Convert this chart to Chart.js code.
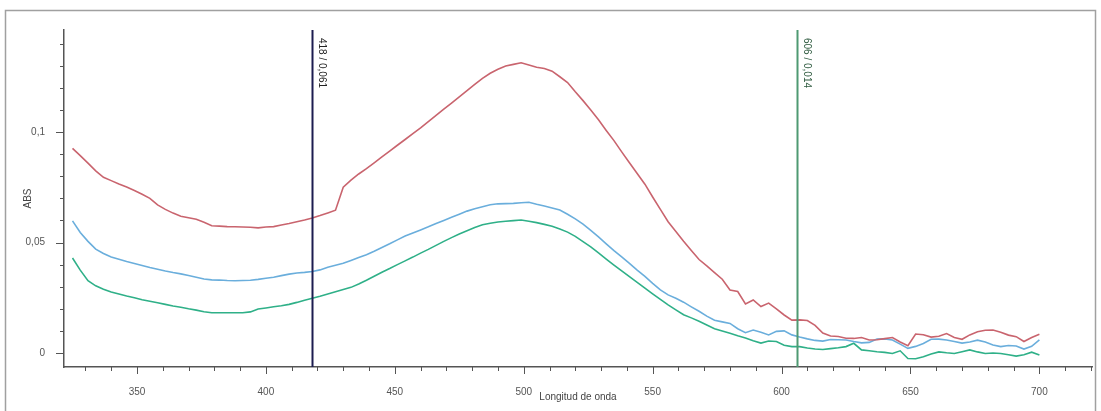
<!DOCTYPE html>
<html>
<head>
<meta charset="utf-8">
<script src="https://cdn.jsdelivr.net/npm/chart.js@4"></script>
<style>
html,body{margin:0;padding:0;background:#fff;}
#wrap{width:1101px;height:411px;position:relative;}
</style>
</head>
<body>
<div id="wrap"><canvas id="c" width="1101" height="411"></canvas></div>
<script>
const wavelengths = [
325,328,331,334,337,340,343,346,349,352,
355,358,361,364,367,370,373,376,379,382,
385,388,391,394,397,400,403,406,409,412,
415,418,421,424,427,430,433,436,439,442,
445,448,451,454,457,460,463,466,469,472,
475,478,481,484,487,490,493,496,499,502,
505,508,511,514,517,520,523,526,529,532,
535,538,541,544,547,550,553,556,559,562,
565,568,571,574,577,580,583,586,589,592,
595,598,601,604,607,610,613,616,619,622,
625,628,631,634,637,640,643,646,649,652,
655,658,661,664,667,670,673,676,679,682,
685,688,691,694,697,700];

const absRed = [
0.0926,0.0893,0.0859,0.0824,0.0795,0.0780,0.0765,0.0751,0.0735,0.0718,
0.0700,0.0670,0.0650,0.0633,0.0619,0.0612,0.0605,0.0592,0.0576,0.0574,
0.0572,0.0571,0.0570,0.0569,0.0566,0.0570,0.0572,0.0579,0.0586,0.0594,
0.0602,0.0611,0.0622,0.0634,0.0646,0.0750,0.0782,0.0810,0.0834,0.0860,
0.0887,0.0913,0.0940,0.0966,0.0993,0.1019,0.1047,0.1075,0.1103,0.1131,
0.1159,0.1187,0.1215,0.1243,0.1266,0.1284,0.1299,0.1306,0.1313,0.1303,
0.1293,0.1287,0.1275,0.1250,0.1224,0.1182,0.1142,0.1100,0.1055,0.1007,
0.0961,0.0910,0.0861,0.0812,0.0764,0.0706,0.0650,0.0594,0.0550,0.0506,
0.0464,0.0423,0.0394,0.0364,0.0334,0.0285,0.0278,0.0222,0.0240,0.0210,
0.0226,0.0200,0.0172,0.0149,0.0150,0.0147,0.0125,0.0090,0.0077,0.0075,
0.0067,0.0066,0.0070,0.0059,0.0060,0.0065,0.0070,0.0050,0.0033,0.0086,
0.0083,0.0072,0.0076,0.0088,0.0070,0.0062,0.0082,0.0096,0.0103,0.0104,
0.0094,0.0081,0.0074,0.0052,0.0070,0.0085];

const absBlue = [
0.0598,0.0545,0.0505,0.0470,0.0450,0.0434,0.0424,0.0414,0.0405,0.0396,
0.0387,0.0379,0.0371,0.0364,0.0358,0.0351,0.0343,0.0335,0.0331,0.0330,
0.0328,0.0327,0.0328,0.0329,0.0333,0.0338,0.0343,0.0350,0.0357,0.0362,
0.0365,0.0369,0.0376,0.0388,0.0397,0.0406,0.0419,0.0432,0.0445,0.0460,
0.0477,0.0494,0.0512,0.0529,0.0543,0.0557,0.0571,0.0586,0.0600,0.0614,
0.0628,0.0642,0.0653,0.0662,0.0671,0.0675,0.0676,0.0677,0.0680,0.0682,
0.0673,0.0665,0.0656,0.0647,0.0628,0.0607,0.0583,0.0555,0.0525,0.0494,
0.0463,0.0435,0.0406,0.0375,0.0347,0.0315,0.0286,0.0263,0.0248,0.0230,
0.0209,0.0189,0.0167,0.0148,0.0141,0.0134,0.0110,0.0092,0.0104,0.0094,
0.0082,0.0098,0.0100,0.0082,0.0072,0.0064,0.0057,0.0054,0.0061,0.0060,
0.0059,0.0052,0.0046,0.0048,0.0063,0.0064,0.0059,0.0040,0.0021,0.0030,
0.0043,0.0062,0.0063,0.0059,0.0052,0.0045,0.0050,0.0058,0.0050,0.0036,
0.0029,0.0034,0.0032,0.0018,0.0030,0.0059];

const absGreen = [
0.0430,0.0375,0.0327,0.0304,0.0289,0.0276,0.0267,0.0258,0.0250,0.0241,
0.0234,0.0227,0.0220,0.0213,0.0207,0.0200,0.0194,0.0187,0.0182,0.0182,
0.0182,0.0182,0.0182,0.0186,0.0199,0.0204,0.0209,0.0214,0.0220,0.0229,
0.0239,0.0248,0.0257,0.0267,0.0277,0.0287,0.0297,0.0312,0.0329,0.0347,
0.0365,0.0382,0.0400,0.0417,0.0434,0.0452,0.0469,0.0487,0.0505,0.0522,
0.0538,0.0553,0.0568,0.0580,0.0587,0.0593,0.0596,0.0599,0.0602,0.0596,
0.0590,0.0582,0.0574,0.0561,0.0547,0.0528,0.0504,0.0480,0.0453,0.0425,
0.0398,0.0372,0.0346,0.0320,0.0294,0.0268,0.0243,0.0218,0.0195,0.0173,
0.0159,0.0144,0.0127,0.0110,0.0100,0.0089,0.0078,0.0068,0.0055,0.0045,
0.0054,0.0052,0.0035,0.0029,0.0029,0.0023,0.0018,0.0016,0.0020,0.0024,
0.0029,0.0044,0.0014,0.0010,0.0006,0.0003,-0.0002,0.0010,-0.0025,-0.0026,
-0.0017,-0.0004,0.0005,0.0001,-0.0002,0.0006,0.0014,0.0005,-0.0002,0.0000,
-0.0002,-0.0008,-0.0014,-0.0008,0.0004,-0.0009];

const xTickValues = [350,400,450,500,550,600,650,700];
const xMinorTicks = [330,340,360,370,380,390,410,420,430,440,460,470,480,490,510,520,530,540,560,570,580,590,610,620,630,640,660,670,680,690,710,720];
const yTickValues = [0,0.05,0.1];
const yMinorTicks = [0.01,0.02,0.03,0.04,0.06,0.07,0.08,0.09,0.11,0.12,0.13,0.14];
const markerWavelengths = [418,606];
const markerLabels = ["418 / 0,061","606 / 0,014"];
const markerColors = ["#1c1c50","#4f9a72"];

function pts(arr){ return wavelengths.map((w,i)=>({x:w,y:arr[i]})); }

const FONT = '"Liberation Sans", Arial, sans-serif';

const decorPlugin = {
  id:'decor',
  beforeDraw(chart){
    const ctx = chart.ctx;
    ctx.save();
    ctx.strokeStyle = '#a0a0a0';
    ctx.lineWidth = 1.5;
    ctx.strokeRect(5.5,10.5,1090,402);
    ctx.restore();
  },
  afterDatasetsDraw(chart){
    const ctx = chart.ctx;
    const xs = chart.scales.x, ys = chart.scales.y;
    const ca = chart.chartArea;
    ctx.save();
    markerWavelengths.forEach((w,i)=>{
      const px = Math.round(xs.getPixelForValue(w))+0.5;
      ctx.strokeStyle = markerColors[i];
      ctx.lineWidth = 2;
      ctx.beginPath(); ctx.moveTo(px, ca.top); ctx.lineTo(px, ca.bottom); ctx.stroke();
      ctx.save();
      ctx.translate(px+4, ca.top+8);
      ctx.rotate(Math.PI/2);
      ctx.fillStyle = i===0 ? '#222' : '#2d5a3e';
      ctx.font = '10px ' + FONT;
      ctx.textBaseline = 'bottom';
      ctx.textAlign = 'left';
      ctx.fillText(markerLabels[i], 0, 0);
      ctx.restore();
    });
    ctx.strokeStyle = '#555';
    ctx.lineWidth = 1;
    xTickValues.forEach(v=>{
      const px = Math.round(xs.getPixelForValue(v))+0.5;
      ctx.beginPath(); ctx.moveTo(px, ca.bottom); ctx.lineTo(px, ca.bottom+7); ctx.stroke();
    });
    xMinorTicks.forEach(v=>{
      const px = Math.round(xs.getPixelForValue(v))+0.5;
      ctx.beginPath(); ctx.moveTo(px, ca.bottom); ctx.lineTo(px, ca.bottom+4); ctx.stroke();
    });
    yTickValues.forEach(v=>{
      const py = Math.round(ys.getPixelForValue(v))+0.5;
      ctx.beginPath(); ctx.moveTo(ca.left-8, py); ctx.lineTo(ca.left, py); ctx.stroke();
    });
    yMinorTicks.forEach(v=>{
      const py = Math.round(ys.getPixelForValue(v))+0.5;
      ctx.beginPath(); ctx.moveTo(ca.left-4, py); ctx.lineTo(ca.left, py); ctx.stroke();
    });
    ctx.restore();
  }
};

new Chart(document.getElementById('c'), {
  type:'line',
  data:{
    datasets:[
      {label:'Muestra 1', data:pts(absRed), borderColor:'#c9646e', borderWidth:1.6, pointRadius:0, tension:0, fill:false},
      {label:'Muestra 2', data:pts(absBlue), borderColor:'#6aaedc', borderWidth:1.6, pointRadius:0, tension:0, fill:false},
      {label:'Muestra 3', data:pts(absGreen), borderColor:'#2fb088', borderWidth:1.6, pointRadius:0, tension:0, fill:false}
    ]
  },
  options:{
    responsive:false,
    animation:false,
    events:[],
    layout:{padding:{top:30,right:9,left:0,bottom:0}},
    plugins:{legend:{display:false},tooltip:{enabled:false}},
    scales:{
      x:{
        type:'linear', min:321.7, max:720.4,
        afterBuildTicks(s){ s.ticks = xTickValues.map(v=>({value:v})); },
        afterFit(s){ s.height = 44; },
        grid:{display:false, drawOnChartArea:false},
        border:{display:true, color:'#555', width:1.5},
        ticks:{autoSkip:false, maxRotation:0, padding:11, color:'#555',
          font:{family:FONT, size:10},
          callback:(v)=>String(v)},
        title:{display:true, text:'Longitud de onda', color:'#444',
          font:{family:FONT, size:10},
          padding:{top:0,bottom:8}}
      },
      y:{
        type:'linear', min:-0.00633, max:0.14615,
        afterBuildTicks(s){ s.ticks = yTickValues.map(v=>({value:v})); },
        afterFit(s){ s.width = 64; },
        grid:{display:false, drawOnChartArea:false},
        border:{display:true, color:'#555', width:1.5},
        ticks:{autoSkip:false, padding:11, color:'#555',
          font:{family:FONT, size:10},
          callback:(v)=>String(v).replace('.',',')},
        title:{display:true, text:'ABS', color:'#444',
          font:{family:FONT, size:10},
          padding:{top:22,bottom:0}}
      }
    }
  },
  plugins:[decorPlugin]
});
</script>
</body>
</html>
